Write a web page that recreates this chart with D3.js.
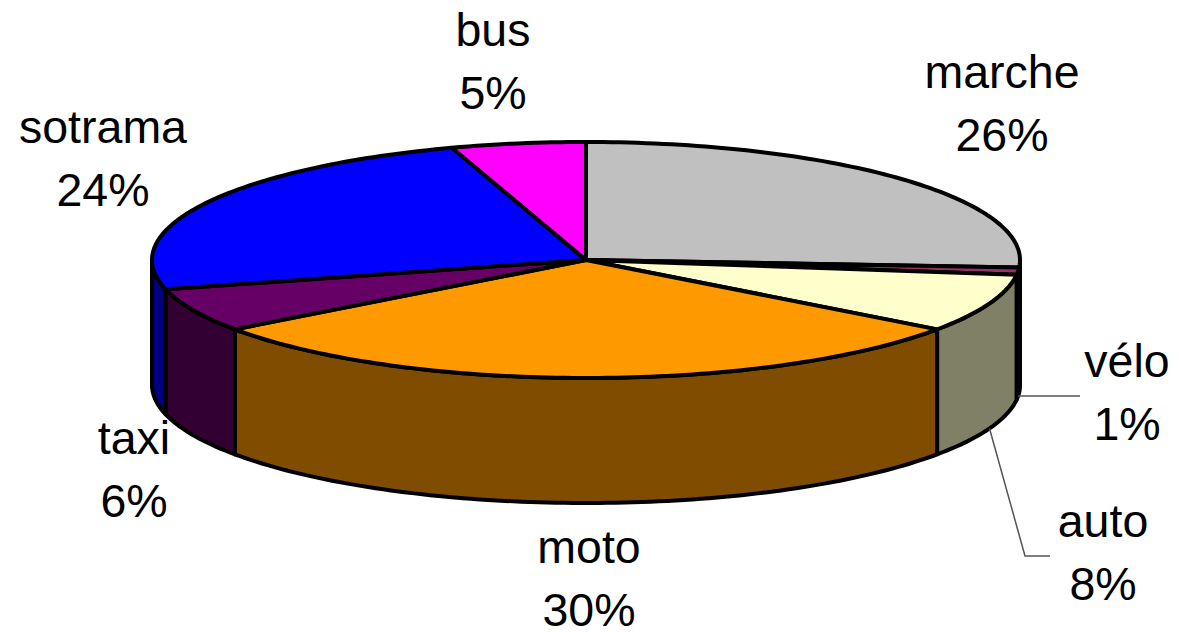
<!DOCTYPE html>
<html>
<head>
<meta charset="utf-8">
<script src="https://cdn.jsdelivr.net/npm/d3@7"></script>
<style>
html, body { margin: 0; padding: 0; background: #fff; overflow: hidden; }
text { font-family: "Liberation Sans", Arial, sans-serif; font-size: 46.5px; fill: #000; text-anchor: middle; }
</style>
</head>
<body>
<svg></svg>
<script>
var w = 1179, h = 633;

// clockwise from 12 o'clock
var categories = ["marche", "vélo", "auto", "moto", "taxi", "sotrama", "bus"];
var shares = [26, 1, 8, 30, 6, 24, 5];
var sliceColors = ["#C0C0C0", "#993366", "#FFFFCC", "#FF9900", "#660066", "#0000FF", "#FF00FF"];

// label centre, by category
var labelX = {marche: 1002, "vélo": 1127, auto: 1103, moto: 589, taxi: 134, sotrama: 103, bus: 493};
var labelY = {marche: 88, "vélo": 377, auto: 537, moto: 563, taxi: 454, sotrama: 143, bus: 46};
var labelGap = 63;

var cx = 586, cy = 260, rx = 434, ry = 118, depth = 125;

var svg = d3.select("svg").attr("width", w).attr("height", h);

var x = d3.scaleLinear().domain([-1, 1]).range([cx - rx, cx + rx]);
var y = d3.scaleLinear().domain([-1, 1]).range([cy - ry, cy + ry]);

var pie = d3.pie().sort(null).value(d => d)(shares);
var line = d3.line();

function rim(a, drop) {
  return [x(Math.sin(a)), y(-Math.cos(a)) + drop];
}

function arcPoints(a0, a1, drop) {
  var n = Math.max(2, Math.ceil((a1 - a0) / 0.02));
  return d3.range(n + 1).map(i => rim(a0 + (a1 - a0) * i / n, drop));
}

function darken(c) {
  var r = d3.rgb(c);
  return d3.rgb(r.r * .5, r.g * .5, r.b * .5);
}

// walls, only the part facing the viewer
var walls = pie.filter(d => d.endAngle > Math.PI / 2 && d.startAngle < Math.PI * 1.5);

svg.append("g").selectAll("path").data(walls).enter().append("path")
  .attr("d", function(d) {
    var a0 = Math.max(d.startAngle, Math.PI / 2);
    var a1 = Math.min(d.endAngle, Math.PI * 1.5);
    return line(arcPoints(a0, a1, 0).concat(arcPoints(a0, a1, depth).reverse())) + "Z";
  })
  .attr("fill", d => darken(sliceColors[d.index]))
  .attr("stroke", "#000")
  .attr("stroke-width", 4)
  .attr("stroke-linejoin", "round");

// top face
svg.append("g").selectAll("path").data(pie).enter().append("path")
  .attr("d", d => line([[cx, cy]].concat(arcPoints(d.startAngle, d.endAngle, 0))) + "Z")
  .attr("fill", d => sliceColors[d.index])
  .attr("stroke", "#000")
  .attr("stroke-width", 4)
  .attr("stroke-linejoin", "round");

// leader lines for the two small labels on the right
function mid(i) { return (pie[i].startAngle + pie[i].endAngle) / 2; }

var leaders = [
  [rim(mid(1), depth), [labelX["vélo"] - 47, rim(mid(1), depth)[1]]],
  [rim(mid(2), depth), [labelX.auto - 78, labelY.auto + 19], [labelX.auto - 53, labelY.auto + 19]]
];

svg.append("g").selectAll("path").data(leaders).enter().append("path")
  .attr("d", d => line(d))
  .attr("fill", "none")
  .attr("stroke", "#555")
  .attr("stroke-width", 1.5);

// labels
var labels = svg.append("g").selectAll("g").data(categories).enter().append("g");

labels.append("text")
  .attr("x", d => labelX[d])
  .attr("y", d => labelY[d])
  .text(d => d);

labels.append("text")
  .attr("x", d => labelX[d])
  .attr("y", d => labelY[d] + labelGap)
  .text(d => shares[categories.indexOf(d)] + "%");
</script>
</body>
</html>
